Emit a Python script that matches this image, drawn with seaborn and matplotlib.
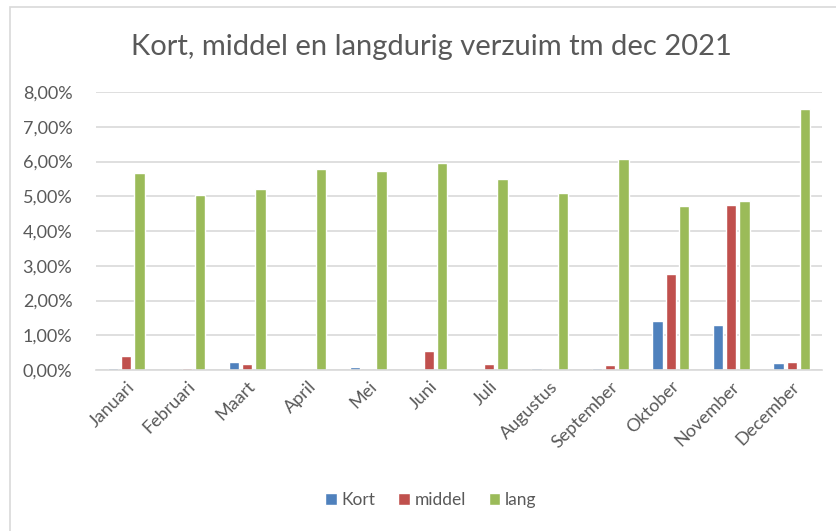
import matplotlib
matplotlib.use('Agg')
from matplotlib import pyplot as plt
from matplotlib.patches import Rectangle
from matplotlib.ticker import FuncFormatter
import seaborn as sns
import pandas as pd

maanden = ['Januari', 'Februari', 'Maart', 'April', 'Mei', 'Juni', 'Juli',
           'Augustus', 'September', 'Oktober', 'November', 'December']
kort = [0.06, 0.00, 0.24, 0.00, 0.09, 0.00, 0.00, 0.06, 0.06, 1.42, 1.29, 0.20]
middel = [0.40, 0.06, 0.17, 0.00, 0.00, 0.56, 0.17, 0.00, 0.14, 2.76, 4.75, 0.24]
lang = [5.67, 5.04, 5.20, 5.78, 5.74, 5.97, 5.49, 5.10, 6.06, 4.71, 4.85, 7.52]

series = ['Kort', 'middel', 'lang']
kleuren = ['#4F81BD', '#C0504D', '#9BBB59']

df = pd.DataFrame({
    'maand': maanden * 3,
    'serie': [s for s in series for _ in maanden],
    'waarde': kort + middel + lang,
})

sns.set_style('white')
plt.rcParams['font.family'] = ['Lato', 'DejaVu Sans']
grijs = '#595959'

fig = plt.figure(figsize=(8.37, 5.31), dpi=100)
ax = fig.add_axes([96 / 837, 1 - 370 / 531, 726 / 837, 278 / 531])

sns.barplot(data=df, x='maand', y='waarde', hue='serie', order=maanden,
            hue_order=series, palette=kleuren, width=0.66, gap=0.22,
            errorbar=None, ax=ax, saturation=1)

ax.set_ylim(0, 8)
ax.set_yticks(range(0, 9))
ax.yaxis.set_major_formatter(FuncFormatter(lambda v, p: f'{v:.2f}%'.replace('.', ',')))
ax.grid(axis='y', color='#d9d9d9', linewidth=1.2)
ax.set_axisbelow(True)
for s in ['top', 'right', 'left']:
    ax.spines[s].set_visible(False)
ax.spines['bottom'].set_color('#d9d9d9')
ax.spines['bottom'].set_linewidth(1.2)
ax.tick_params(axis='both', length=0, colors=grijs, labelsize=13)
ax.tick_params(axis='y', pad=17)
ax.tick_params(axis='x', pad=6)
plt.setp(ax.get_xticklabels(), rotation=45, ha='right', rotation_mode='anchor')
ax.set_xlabel('')
ax.set_ylabel('')

fig.text(0.515, 1 - 47 / 531, 'Kort, middel en langdurig verzuim tm dec 2021',
         ha='center', va='center', fontsize=21, color=grijs)

ax.legend(loc='center', bbox_to_anchor=(0.515, 1 - 500 / 531), bbox_transform=fig.transFigure,
          ncol=3, frameon=False, fontsize=12.5, labelcolor=grijs,
          handlelength=0.65, handleheight=0.65, handletextpad=0.3, columnspacing=1.3)

fig.patches.append(Rectangle((10 / 837, -0.1), 1.2, 1 - 7 / 531 + 0.1,
                             transform=fig.transFigure, fill=False,
                             edgecolor='#d9d9d9', linewidth=1.2))

fig.savefig('out.png', dpi=100)
